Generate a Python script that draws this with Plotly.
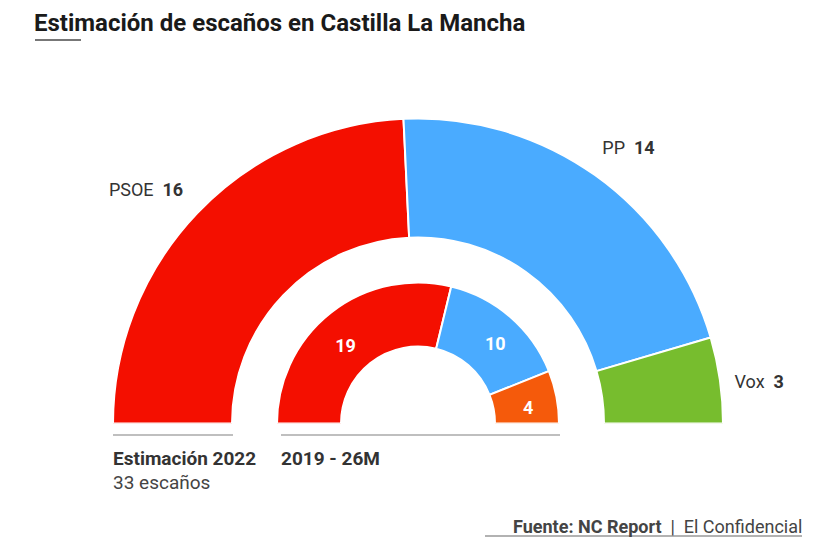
import plotly.graph_objects as go

# Datos
partidos = ['PSOE', 'PP', 'Vox']
escanos_2022 = [16, 14, 3]
colores_2022 = ['#F40F00', '#4AABFF', '#77BD2E']

escanos_2019 = [19, 10, 4]
colores_2019 = ['#F40F00', '#4AABFF', '#F55A0B']

W, H = 814, 546
OFF = 8  # margen del body de la pagina
FONT = 'Roboto, Arial, sans-serif'
R_MAX = 340           # rango radial (deja sitio para las etiquetas)
CX, CY = 418, 423.5   # centro del semicirculo en pixeles


def arcos(valores):
    """centro y ancho (grados) de cada segmento del semicirculo"""
    total = sum(valores)
    centros, anchos = [], []
    acum = 0
    for v in valores:
        anchos.append(v / total * 180)
        centros.append((acum + v / 2) / total * 180)
        acum += v
    return centros, anchos


def px(x, y):
    return (x - OFF) / W, 1 - (y - OFF) / H


fig = go.Figure()

# anillo exterior: estimacion 2022
th, wd = arcos(escanos_2022)
fig.add_trace(go.Barpolar(theta=th, width=wd, r=[119] * 3, base=[186] * 3,
                          marker=dict(color=colores_2022, line=dict(color='white', width=2)),
                          hoverinfo='skip'))
fig.add_trace(go.Scatterpolar(theta=[t + d for t, d in zip(th, [1, -1.5, 1])],
                              r=[330, 330, 319], mode='text',
                              text=[f'{p}  <b>{v}</b>' for p, v in zip(partidos, escanos_2022)],
                              textposition=['middle left', 'middle right', 'middle right'],
                              textfont=dict(family=FONT, size=18, color='#333333'),
                              cliponaxis=False, hoverinfo='skip'))

# anillo interior: 2019 - 26M
th, wd = arcos(escanos_2019)
fig.add_trace(go.Barpolar(theta=th, width=wd, r=[64] * 3, base=[77] * 3,
                          marker=dict(color=colores_2019, line=dict(color='white', width=2)),
                          hoverinfo='skip'))
fig.add_trace(go.Scatterpolar(theta=[t + d for t, d in zip(th, [-5.5, 3.7, 3.9])],
                              r=[105, 110, 111], mode='text',
                              text=[f'<b>{v}</b>' for v in escanos_2019],
                              textposition='middle center',
                              textfont=dict(family=FONT, size=18, color='white'),
                              cliponaxis=False, hoverinfo='skip'))

x0, y1 = px(CX - R_MAX, CY - R_MAX)
x1, y0 = px(CX + R_MAX, CY)
fig.update_layout(
    width=W, height=H,
    margin=dict(l=0, r=0, t=0, b=0),
    paper_bgcolor='white',
    showlegend=False,
    font=dict(family=FONT, color='#333333'),
    polar=dict(
        domain=dict(x=[x0, x1], y=[y0, y1]),
        sector=[0, 180],
        bgcolor='white',
        radialaxis=dict(range=[0, R_MAX], visible=False),
        angularaxis=dict(visible=False, direction='clockwise', rotation=180),
    ),
)

# titulo
fig.add_annotation(x=px(33, 0)[0], y=px(0, 23)[1], xref='paper', yref='paper',
                   text='<b>Estimación de escaños en Castilla La Mancha</b>',
                   showarrow=False, xanchor='left', yanchor='middle', borderpad=0,
                   font=dict(size=24, color='#1a1a1a'))
fig.add_shape(type='line', xref='paper', yref='paper',
              x0=px(35, 0)[0], x1=px(81, 0)[0], y0=px(0, 40)[1], y1=px(0, 40)[1],
              line=dict(color='#777777', width=2))

# rotulos inferiores
for xa, xb in [(113, 233), (281, 560)]:
    fig.add_shape(type='line', xref='paper', yref='paper',
                  x0=px(xa, 0)[0], x1=px(xb, 0)[0], y0=px(0, 435)[1], y1=px(0, 435)[1],
                  line=dict(color='#aaaaaa', width=1.5))
fig.add_annotation(x=px(111, 0)[0], y=px(0, 458)[1], xref='paper', yref='paper',
                   text='<b>Estimación 2022</b>', showarrow=False,
                   xanchor='left', yanchor='middle', font=dict(size=19, color='#333333'))
fig.add_annotation(x=px(111, 0)[0], y=px(0, 482)[1], xref='paper', yref='paper',
                   text='33 escaños', showarrow=False,
                   xanchor='left', yanchor='middle', font=dict(size=19, color='#444444'))
fig.add_annotation(x=px(279, 0)[0], y=px(0, 458)[1], xref='paper', yref='paper',
                   text='<b>2019 - 26M</b>', showarrow=False,
                   xanchor='left', yanchor='middle', font=dict(size=19, color='#333333'))

# fuente
fig.add_annotation(x=px(804, 0)[0], y=px(0, 526)[1], xref='paper', yref='paper',
                   text='<b>Fuente: NC Report</b>  |  El Confidencial', showarrow=False,
                   xanchor='right', yanchor='middle', font=dict(size=18, color='#444444'))
fig.add_shape(type='line', xref='paper', yref='paper',
              x0=px(485, 0)[0], x1=px(802, 0)[0], y0=px(0, 536)[1], y1=px(0, 536)[1],
              line=dict(color='#999999', width=1.5))

fig.write_html('out.html')
